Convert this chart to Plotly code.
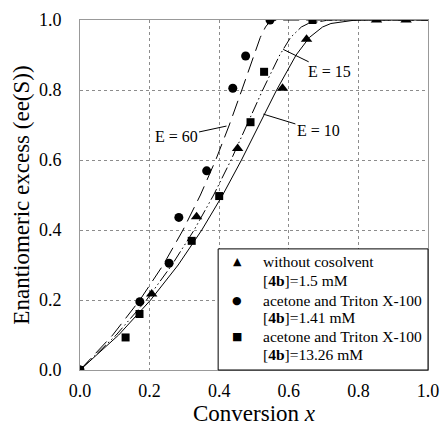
import plotly.graph_objects as go

# ---- measured data points ----
tri_x = [0.0, 0.206, 0.335, 0.453, 0.582, 0.651, 0.852, 0.937]
tri_y = [0.0, 0.217, 0.438, 0.633, 0.805, 0.945, 1.0, 1.0]

cir_x = [0.0, 0.172, 0.256, 0.284, 0.364, 0.439, 0.476, 0.546]
cir_y = [0.0, 0.195, 0.305, 0.436, 0.569, 0.805, 0.897, 1.0]

sq_x = [0.0, 0.131, 0.171, 0.321, 0.400, 0.490, 0.529, 0.668]
sq_y = [0.0, 0.093, 0.160, 0.369, 0.497, 0.708, 0.852, 1.0]

# ---- fitted curves (ee vs conversion) ----
curve_ee = [0.0, 0.1, 0.2, 0.3, 0.4, 0.5, 0.6, 0.7, 0.8, 0.9, 0.95, 0.98, 0.99, 0.999, 1.0, 1.0]
e10_x = [0.0, 0.111, 0.203, 0.282, 0.350, 0.410, 0.464, 0.515, 0.565, 0.621, 0.659, 0.697, 0.721, 0.785, 0.81, 1.0]
e15_x = [0.0, 0.104, 0.191, 0.264, 0.328, 0.384, 0.434, 0.480, 0.525, 0.574, 0.605, 0.636, 0.656, 0.709, 0.73, 1.0]
e60_x = [0.0, 0.094, 0.172, 0.239, 0.296, 0.346, 0.390, 0.429, 0.465, 0.499, 0.518, 0.533, 0.541, 0.560, 0.57, 1.0]

x_ticks = [0.0, 0.2, 0.4, 0.6, 0.8, 1.0]
y_ticks = [0.0, 0.2, 0.4, 0.6, 0.8, 1.0]

legend_lines = [
    "without cosolvent",
    "[<b>4b</b>]=1.5 mM",
    "acetone and Triton X-100",
    "[<b>4b</b>]=1.41 mM",
    "acetone and Triton X-100",
    "[<b>4b</b>]=13.26 mM",
]
legend_symbols = ["\u25B2", "\u25CF", "\u25A0"]

FONT = "Liberation Serif, Times New Roman, Times, serif"

fig = go.Figure()

fig.add_trace(go.Scatter(x=e60_x, y=curve_ee, mode="lines",
                         line=dict(color="black", width=1, dash="16px,7px"), showlegend=False))
fig.add_trace(go.Scatter(x=e15_x, y=curve_ee, mode="lines",
                         line=dict(color="black", width=1, dash="12px,3px,1.5px,3px,1.5px,3px"), showlegend=False))
fig.add_trace(go.Scatter(x=e10_x, y=curve_ee, mode="lines",
                         line=dict(color="black", width=1), showlegend=False))

fig.add_trace(go.Scatter(x=tri_x, y=tri_y, mode="markers",
                         marker=dict(symbol="triangle-up", size=10, color="black"), showlegend=False))
fig.add_trace(go.Scatter(x=cir_x, y=cir_y, mode="markers",
                         marker=dict(symbol="circle", size=9, color="black"), showlegend=False))
fig.add_trace(go.Scatter(x=sq_x, y=sq_y, mode="markers",
                         marker=dict(symbol="square", size=8, color="black"), showlegend=False))

# E labels with leader lines
labels = [("E = 60", 0.421, 0.697, 0.276, 0.666),
          ("E = 15", 0.584, 0.916, 0.716, 0.852),
          ("E = 10", 0.527, 0.731, 0.685, 0.683)]
for txt, px, py, tx, ty in labels:
    fig.add_annotation(x=px, y=py, ax=tx, ay=ty, xref="x", yref="y", axref="x", ayref="y",
                       text=txt, showarrow=True, arrowhead=0, arrowwidth=1, arrowcolor="black",
                       standoff=0, borderpad=1, bgcolor="rgba(0,0,0,0)",
                       font=dict(family=FONT, size=16, color="black"))

# Legend box (white fill hides curves behind it)
fig.add_shape(type="rect", xref="paper", yref="paper", x0=0.397, x1=1.0, y0=0.0, y1=0.346,
              line=dict(color="black", width=1), fillcolor="white", layer="above")
line_y = [0.3086, 0.2543, 0.2, 0.1486, 0.0971, 0.0429]
for t, yy in zip(legend_lines, line_y):
    fig.add_annotation(x=0.52, y=yy, xref="paper", yref="paper", text=t, showarrow=False,
                       xanchor="left", yanchor="middle",
                       font=dict(family=FONT, size=15.5, color="black"))
for s, yy in zip(legend_symbols, [line_y[0], line_y[2], line_y[4]]):
    fig.add_annotation(x=0.452, y=yy, xref="paper", yref="paper", text=s, showarrow=False,
                       xanchor="center", yanchor="middle",
                       font=dict(family="DejaVu Sans", size=11, color="black"))

axis_common = dict(
    showgrid=True, gridcolor="#8c8c8c", gridwidth=1, griddash="dot",
    showline=True, linecolor="#999999", linewidth=1, mirror=True,
    zeroline=False, ticks="", tickfont=dict(family=FONT, size=18, color="black"),
    ticklabeloverflow="allow",
)

fig.update_xaxes(range=[0, 1.0], tickvals=x_ticks, ticktext=[f"{v:.1f}" for v in x_ticks],
                 title=dict(text="Conversion <i>x</i>", font=dict(family=FONT, size=23, color="black"),
                            standoff=5),
                 ticklabelstandoff=4, **axis_common)
fig.update_yaxes(range=[0, 1.0], tickvals=y_ticks, ticktext=[f"{v:.1f}" for v in y_ticks],
                 title=dict(text="Enantiomeric excess (ee(S))", font=dict(family=FONT, size=23, color="black"),
                            standoff=2),
                 ticklabelstandoff=14, **axis_common)

fig.update_layout(
    width=442, height=436,
    margin=dict(l=80, r=14, t=20, b=66, autoexpand=False),
    paper_bgcolor="white", plot_bgcolor="white",
    showlegend=False,
)

# remove the page's default 8px body margin so the figure fills the window; hide the modebar
fig.write_html("out.html",
               config={"displayModeBar": False},
               post_script="document.body.style.margin='0';document.body.style.overflow='hidden';")
